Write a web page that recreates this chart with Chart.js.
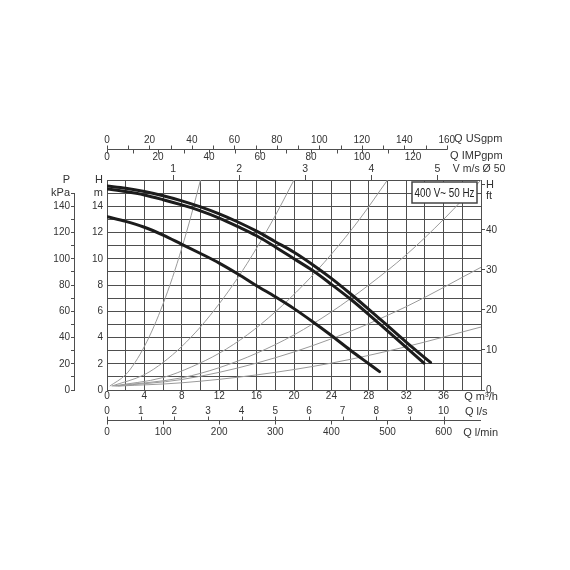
<!DOCTYPE html>
<html>
<head>
<meta charset="utf-8">
<script src="https://cdn.jsdelivr.net/npm/chart.js@4.4.0/dist/chart.umd.min.js"></script>
<style>
  html, body { margin: 0; padding: 0; background: #fff; }
  #pumpChart { display: block; }
</style>
</head>
<body>
<canvas id="pumpChart" width="570" height="570"></canvas>
<script>
// pump curves, Q in m3/h, H in m
const curveA_Q = [0, 2, 4, 6, 8, 10, 12, 14, 16, 18, 20, 22, 24, 26, 28, 30, 32, 34, 34.6];
const curveA_H = [15.54, 15.37, 15.12, 14.8, 14.41, 13.95, 13.42, 12.8, 12.1, 11.3, 10.5, 9.55, 8.5, 7.35, 6.15, 4.9, 3.65, 2.45, 2.1];
const curveB_Q = [0, 2, 4, 6, 8, 10, 12, 14, 16, 18, 20, 22, 24, 26, 28, 30, 32, 33.9];
const curveB_H = [15.32, 15.12, 14.86, 14.5, 14.1, 13.65, 13.1, 12.45, 11.75, 10.9, 10.0, 9.1, 8.05, 6.95, 5.75, 4.5, 3.25, 2.05];
const curveC_Q = [0, 2, 4, 6, 8, 10, 12, 14, 16, 18, 20, 22, 24, 26, 28, 29.15];
const curveC_H = [13.2, 12.85, 12.4, 11.8, 11.1, 10.4, 9.67, 8.84, 7.95, 7.1, 6.2, 5.2, 4.15, 3.05, 2.0, 1.4];

// thin grey system curves
const sys1_Q = [0.3, 2, 3, 4, 5, 6, 7, 8, 9, 10];
const sys1_H = [0.3, 1.17, 2.1, 3.32, 4.81, 6.57, 8.56, 10.81, 13.29, 16.0];
const sys2_Q = [0.5, 4, 6, 8, 10, 12, 14, 16, 18, 20];
const sys2_H = [0.3, 1.17, 2.1, 3.32, 4.81, 6.57, 8.56, 10.81, 13.29, 16.0];
const sys3_Q = [0.6, 6, 9, 12, 15, 18, 21, 24, 27, 30];
const sys3_H = [0.3, 0.95, 1.75, 2.8, 4.2, 5.95, 8.0, 10.35, 13.0, 16.0];
const sys4_Q = [0.8, 8, 12, 16, 20, 24, 28, 32, 36, 40];
const sys4_H = [0.3, 0.93, 1.7, 2.8, 4.2, 5.95, 8.0, 10.3, 13.0, 16.0];
const sys5_Q = [1, 8, 16, 24, 32, 40];
const sys5_H = [0.3, 0.8, 2.05, 3.9, 6.35, 9.35];
const sys6_Q = [1.2, 8, 16, 24, 32, 40];
const sys6_H = [0.3, 0.55, 1.15, 2.05, 3.3, 4.8];

// tick labels
const qTicks = [0, 4, 8, 12, 16, 20, 24, 28, 32, 36];
const headTicks = [0, 2, 4, 6, 8, 10, 12, 14];
const kpaTicks = [0, 20, 40, 60, 80, 100, 120, 140];
const ftTicks = [0, 10, 20, 30, 40];
const usgpmTicks = [0, 10, 20, 30, 40, 50, 60, 70, 80, 90, 100, 110, 120, 130, 140, 150, 160];
const impgpmTicks = [0, 10, 20, 30, 40, 50, 60, 70, 80, 90, 100, 110, 120];
const velTicks = [1, 2, 3, 4, 5];
const lsTicks = [0, 1, 2, 3, 4, 5, 6, 7, 8, 9, 10];
const lminTicks = [0, 100, 200, 300, 400, 500, 600];
const ratingText = '400 V~ 50 Hz';

// unit conversions to m3/h and m
const M3H_PER_USGPM = 0.2271;
const M3H_PER_IMPGPM = 0.2728;
const M3H_PER_MS = 7.0686; // pipe Ø 50
const M3H_PER_LS = 3.6;
const M3H_PER_LMIN = 0.06;
const M_PER_FT = 0.3048;
const KPA_PER_M = 10;

// where the unit names sit on the secondary scales
const usgUnitAt = 174.8, impUnitAt = 144.8, velUnitAt = 5.63, lsUnitAt = 10.97, lminUnitAt = 666;
const ftUnitAt = 48.6, ftHeadAt = 51.3;

const GRID = '#4e4e4e';
const NONE = 'rgba(0,0,0,0)';

Chart.defaults.font.family = "'Liberation Sans', Arial, Helvetica, sans-serif";
Chart.defaults.font.size = 10;
Chart.defaults.color = '#333';

const pts = (qs, hs) => qs.map((q, i) => ({ x: q, y: hs[i] }));
const tickFont = c => ({ size: (c.tick && /[a-zA-Z]/.test(String(c.tick.label))) ? 11 : 10 });
const setTicks = list => s => { s.ticks = list.map(v => ({ value: v })); };
const noGrid = { display: false, drawTicks: false };

function pumpLine(qs, hs) {
    return {
        data: pts(qs, hs), borderColor: '#1c1c1c', borderWidth: 3, pointRadius: 0,
        cubicInterpolationMode: 'monotone', borderCapStyle: 'round', order: 0
    };
}
function sysLine(qs, hs) {
    return {
        data: pts(qs, hs), borderColor: '#9a9a9a', borderWidth: 1, pointRadius: 0,
        cubicInterpolationMode: 'monotone', order: 1
    };
}

const unitAxes = {
    id: 'unitAxes',
    afterDatasetsDraw(chart) {
        const { ctx, chartArea, scales } = chart;
        const usg = scales.usgpm, imp = scales.impgpm, ls = scales.ls, lmin = scales.lmin, kpa = scales.kpa;
        const px = (s, v) => Math.round(s.getPixelForValue(v)) + 0.5;
        ctx.save();
        ctx.strokeStyle = GRID;
        ctx.lineWidth = 1;
        ctx.beginPath();
        // top line, USgpm ticks up, IMPgpm ticks down
        const yTop = usg.bottom + 0.5;
        ctx.moveTo(px(usg, 0), yTop);
        ctx.lineTo(px(usg, usgpmTicks[usgpmTicks.length - 1]), yTop);
        usgpmTicks.forEach(v => { ctx.moveTo(px(usg, v), yTop); ctx.lineTo(px(usg, v), yTop - 4); });
        impgpmTicks.forEach(v => { ctx.moveTo(px(imp, v), yTop); ctx.lineTo(px(imp, v), yTop + 4); });
        // bottom line, l/s ticks up, l/min ticks down
        const yBot = lmin.top + 0.5;
        ctx.moveTo(lmin.left, yBot);
        ctx.lineTo(lmin.right, yBot);
        lsTicks.forEach(v => { ctx.moveTo(px(ls, v), yBot); ctx.lineTo(px(ls, v), yBot - 4); });
        lminTicks.forEach(v => { ctx.moveTo(px(lmin, v), yBot); ctx.lineTo(px(lmin, v), yBot + 4); });
        // kPa axis line
        const xK = kpa.right - 0.5;
        ctx.moveTo(xK, kpa.getPixelForValue(0));
        ctx.lineTo(xK, kpa.getPixelForValue(150));
        ctx.stroke();

        // rating box
        const bw = 65, bh = 21;
        const bx = chartArea.right - 4 - bw, by = chartArea.top + 2;
        ctx.fillStyle = '#fff';
        ctx.fillRect(bx, by, bw, bh);
        ctx.strokeStyle = '#444';
        ctx.lineWidth = 1.5;
        ctx.strokeRect(bx, by, bw, bh);
        ctx.fillStyle = '#222';
        ctx.font = "12.5px 'Liberation Sans', Arial, sans-serif";
        ctx.textAlign = 'center';
        ctx.textBaseline = 'middle';
        ctx.fillText(ratingText, bx + bw / 2, by + bh / 2 + 1, bw - 5);
        ctx.restore();
    }
};

new Chart(document.getElementById('pumpChart'), {
    type: 'line',
    data: {
        datasets: [
            pumpLine(curveA_Q, curveA_H),
            pumpLine(curveB_Q, curveB_H),
            pumpLine(curveC_Q, curveC_H),
            sysLine(sys1_Q, sys1_H),
            sysLine(sys2_Q, sys2_H),
            sysLine(sys3_Q, sys3_H),
            sysLine(sys4_Q, sys4_H),
            sysLine(sys5_Q, sys5_H),
            sysLine(sys6_Q, sys6_H)
        ]
    },
    options: {
        responsive: false,
        animation: false,
        events: [],
        devicePixelRatio: 1,
        layout: { padding: { left: 45, right: 59, top: 132, bottom: 130 } },
        plugins: { legend: { display: false }, tooltip: { enabled: false } },
        scales: {
            x: {
                type: 'linear', position: 'bottom', weight: 0, min: 0, max: 40,
                afterFit: s => { s.height = 14; },
                ticks: {
                    stepSize: 2, autoSkip: false, maxRotation: 0, padding: 0, font: tickFont,
                    callback: v => v === 40 ? 'Q m³/h' : (qTicks.includes(v) ? String(v) : '')
                },
                grid: { color: GRID, drawTicks: false },
                border: { color: GRID }
            },
            ls: {
                type: 'linear', position: 'bottom', weight: 1, min: 0, max: 40 / M3H_PER_LS,
                afterFit: s => { s.height = 16; },
                afterBuildTicks: setTicks(lsTicks.concat([lsUnitAt])),
                ticks: {
                    autoSkip: false, maxRotation: 0, padding: 1, font: tickFont,
                    callback: v => v === lsUnitAt ? 'Q l/s' : String(v)
                },
                grid: noGrid, border: { display: false }
            },
            lmin: {
                type: 'linear', position: 'bottom', weight: 2, min: 0, max: 40 / M3H_PER_LMIN,
                afterFit: s => { s.height = 20; },
                afterBuildTicks: setTicks(lminTicks.concat([lminUnitAt])),
                ticks: {
                    autoSkip: false, maxRotation: 0, padding: 6, font: tickFont,
                    callback: v => v === lminUnitAt ? 'Q l/min' : String(v)
                },
                grid: noGrid, border: { display: false }
            },
            vel: {
                type: 'linear', position: 'top', weight: 0, min: 0, max: 40 / M3H_PER_MS,
                afterFit: s => { s.height = 17; },
                afterBuildTicks: setTicks(velTicks.concat([velUnitAt])),
                ticks: {
                    autoSkip: false, maxRotation: 0, padding: 0, font: { size: 10.5 },
                    callback: v => v === velUnitAt ? 'V m/s Ø 50' : String(v)
                },
                grid: {
                    drawOnChartArea: false, tickLength: 5, color: GRID,
                    tickColor: c => (c.tick && c.tick.value === velUnitAt) ? NONE : GRID
                },
                border: { display: false }
            },
            impgpm: {
                type: 'linear', position: 'top', weight: 1, min: 0, max: 40 / M3H_PER_IMPGPM,
                afterFit: s => { s.height = 14; },
                afterBuildTicks: setTicks(impgpmTicks.filter(v => v % 20 === 0).concat([impUnitAt])),
                ticks: {
                    autoSkip: false, maxRotation: 0, padding: 0, font: tickFont,
                    callback: v => v === impUnitAt ? 'Q IMPgpm' : String(v)
                },
                grid: noGrid, border: { display: false }
            },
            usgpm: {
                type: 'linear', position: 'top', weight: 2, min: 0, max: 40 / M3H_PER_USGPM,
                afterFit: s => { s.height = 17; },
                afterBuildTicks: setTicks(usgpmTicks.filter(v => v % 20 === 0).concat([usgUnitAt])),
                ticks: {
                    autoSkip: false, maxRotation: 0, padding: 3, font: tickFont,
                    callback: v => v === usgUnitAt ? 'Q USgpm' : String(v)
                },
                grid: noGrid, border: { display: false }
            },
            y: {
                type: 'linear', position: 'left', weight: 0, min: 0, max: 16,
                afterFit: s => { s.width = 32; },
                ticks: {
                    stepSize: 1, autoSkip: false, padding: 4, font: tickFont,
                    callback: v => v === 16 ? 'H' : v === 15 ? 'm' : (headTicks.includes(v) ? String(v) : '')
                },
                grid: { color: GRID, drawTicks: false },
                border: { color: GRID }
            },
            kpa: {
                type: 'linear', position: 'left', weight: 1, min: 0, max: 16 * KPA_PER_M,
                afterFit: s => { s.width = 30; },
                ticks: {
                    stepSize: 10, autoSkip: false, padding: 1, font: tickFont,
                    callback: v => v === 160 ? 'P' : v === 150 ? 'kPa' : (kpaTicks.includes(v) ? String(v) : '')
                },
                grid: {
                    drawOnChartArea: false, tickLength: 4, color: GRID,
                    tickColor: c => (c.tick && c.tick.value === 160) ? NONE : GRID
                },
                border: { display: false }
            },
            ft: {
                type: 'linear', position: 'right', weight: 0, min: 0, max: 16 / M_PER_FT,
                afterFit: s => { s.width = 30; },
                afterBuildTicks: setTicks(ftTicks.concat([ftUnitAt, ftHeadAt])),
                ticks: {
                    autoSkip: false, padding: 1, font: tickFont,
                    callback: v => v === ftHeadAt ? 'H' : v === ftUnitAt ? 'ft' : String(v)
                },
                grid: {
                    drawOnChartArea: false, tickLength: 4, color: GRID,
                    tickColor: c => (c.tick && c.tick.value === ftUnitAt) ? NONE : GRID
                },
                border: { display: false }
            }
        }
    },
    plugins: [unitAxes]
});
</script>
</body>
</html>
